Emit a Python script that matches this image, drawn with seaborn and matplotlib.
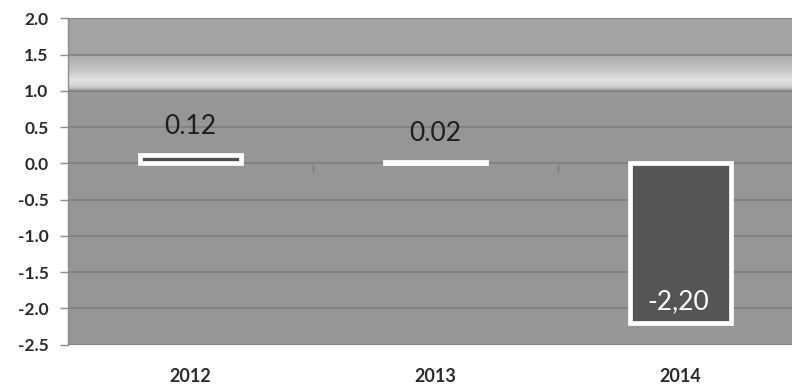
import numpy as np
import pandas as pd
import matplotlib
matplotlib.use("Agg")
import matplotlib.pyplot as plt
from matplotlib.colors import LinearSegmentedColormap
import seaborn as sns

# Data
years = ["2012", "2013", "2014"]
values = [0.12, 0.02, -2.20]
decimal_marks = [".", ".", ","]
y_ticks = [2.0, 1.5, 1.0, 0.5, 0.0, -0.5, -1.0, -1.5, -2.0, -2.5]

df = pd.DataFrame({"year": years, "value": values})

sns.set_theme(style="white")
plt.rcParams["font.family"] = ["Lato", "DejaVu Sans"]

W, H = 792, 389
fig = plt.figure(figsize=(W / 100, H / 100), dpi=100)
ax_top, ax_bottom, ax_left, ax_right = 18.3, 344.5, 68, 803
ax = fig.add_axes([ax_left / W, 1 - ax_bottom / H,
                   (ax_right - ax_left) / W, (ax_bottom - ax_top) / H])

# Plot-area background: flat grey with a glossy band between 1.0 and 1.5
ax.set_facecolor("#969696")
ax.axhspan(1.5, 2.0, color="#a3a3a3", zorder=0, lw=0)
band = LinearSegmentedColormap.from_list(
    "band",
    [(0.0, "#9a9a9a"), (0.12, "#cfcfcf"), (0.3, "#e4e4e4"),
     (0.55, "#c6c6c6"), (0.85, "#b2b2b2"), (1.0, "#a9a9a9")],
)
grad = np.linspace(0, 1, 256).reshape(-1, 1)
ax.imshow(grad, cmap=band, aspect="auto", extent=(-0.5, 2.5, 1.0, 1.5),
          origin="lower", zorder=0.5, interpolation="bilinear")

palette = {"2012": "#4f4f4f", "2013": "#d9d9d9", "2014": "#555555"}
sns.barplot(data=df, x="year", y="value", hue="year", palette=palette,
            order=years, hue_order=years, legend=False, width=0.41,
            edgecolor="white", linewidth=3.4, saturation=1, ax=ax, zorder=3)

ax.set_xlim(-0.5, 2.5)
ax.set_ylim(-2.5, 2.0)
ax.set_yticks(y_ticks)
ax.set_yticklabels([f"{t:.1f}" for t in y_ticks], fontsize=12.5,
                   color="#2b2b2b", fontweight="bold")
ax.tick_params(axis="y", length=6, width=1, color="#8c8c8c", pad=8, left=True)
ax.tick_params(axis="x", length=0, pad=17, labelsize=13, labelcolor="#2b2b2b")
for lbl in ax.get_xticklabels():
    lbl.set_fontweight("bold")
ax.set_xlabel("")
ax.set_ylabel("")

for t in y_ticks:
    ax.axhline(t, color="#7c7c7c", lw=1.1, zorder=1)

# Small category separator ticks just below the zero line
for b in (0.5, 1.5):
    ax.plot([b, b], [-0.03, -0.12], color="#7c7c7c", lw=1, zorder=2)

for side in ("top", "right", "bottom"):
    ax.spines[side].set_visible(False)
ax.spines["left"].set_color("#8c8c8c")
ax.spines["left"].set_linewidth(1)

# Value labels
for i, (v, mark) in enumerate(zip(values, decimal_marks)):
    text = f"{v:.2f}".replace(".", mark)
    if v >= 0:
        ax.text(i, v + 0.39, text, ha="center", va="center",
                fontsize=19, color="#1e1e1e")
    else:
        ax.text(i - 0.01, v + 0.29, text, ha="center", va="center",
                fontsize=19, color="white")

fig.savefig("out.png", dpi=100, facecolor="white")
